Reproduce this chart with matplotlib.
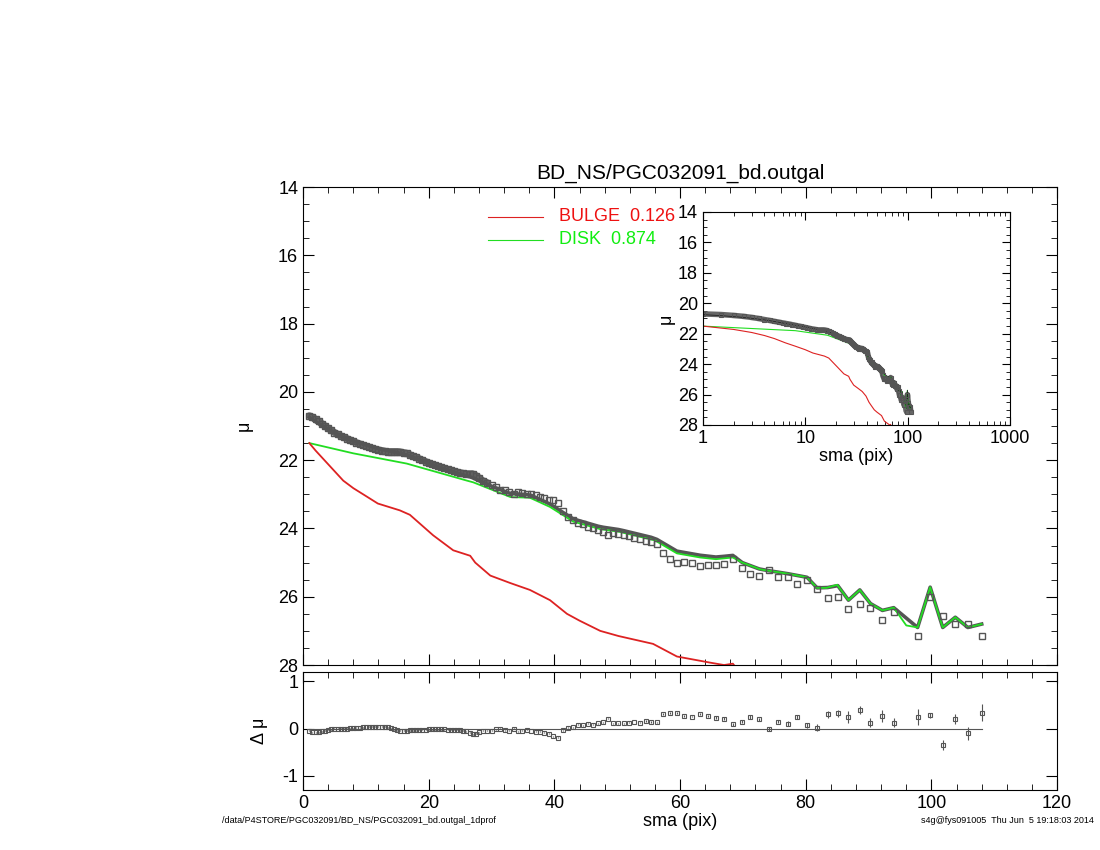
import numpy as np
import matplotlib
matplotlib.use("Agg")
import matplotlib.pyplot as plt
from matplotlib.ticker import MultipleLocator

plt.rcParams['font.family'] = ['Liberation Sans', 'DejaVu Sans']

# observed profile
sma = [1.0, 1.5, 2.0, 2.5, 3.0, 3.5, 4.0, 4.5, 5.0, 5.5, 6.0, 6.5, 7.0, 7.5, 8.0, 8.5, 9.0, 9.5,
       10.0, 10.5, 11.0, 11.5, 12.0, 12.5, 13.0, 13.5, 14.0, 14.5, 15.0, 15.5, 16.0, 16.5, 17.0,
       17.5, 18.0, 18.5, 19.0, 19.5, 20.0, 20.5, 21.0, 21.5, 22.0, 22.5, 23.0, 23.5, 24.0, 24.5,
       25.0, 25.5, 26.0, 26.5, 27.0, 27.5, 28.0, 28.6, 29.3, 30.0, 30.7, 31.4, 32.1, 32.8, 33.5,
       34.2, 34.9, 35.6, 36.3, 37.0, 37.7, 38.4, 39.1, 39.8, 40.6, 41.4, 42.2, 43.0, 43.8, 44.6,
       45.4, 46.2, 47.0, 47.8, 48.6, 49.4, 50.2, 51.0, 51.8, 52.7, 53.6, 54.5, 55.4, 56.3,
       57.3, 58.4, 59.5, 60.7, 61.9, 63.2, 64.4, 65.7, 67.0, 68.4, 69.9, 71.2, 72.6, 74.1, 75.6,
       77.1, 78.6, 80.2, 81.8, 83.5, 85.1, 86.8, 88.6, 90.3, 92.2, 94.0, 97.8, 99.8, 101.8,
       103.8, 105.8, 108.0]
mu = [20.70, 20.74, 20.80, 20.86, 20.93, 21.00, 21.07, 21.13, 21.19, 21.24, 21.29, 21.33, 21.37,
      21.41, 21.45, 21.49, 21.52, 21.56, 21.59, 21.62, 21.65, 21.68, 21.70, 21.72, 21.74, 21.75,
      21.75, 21.75, 21.75, 21.76, 21.78, 21.80, 21.84, 21.88, 21.92, 21.96, 22.00, 22.04, 22.08,
      22.12, 22.15, 22.18, 22.21, 22.24, 22.27, 22.30, 22.33, 22.35, 22.37, 22.39, 22.40, 22.40,
      22.40, 22.45, 22.52, 22.60, 22.66, 22.72, 22.80, 22.86, 22.88, 22.92, 22.98, 22.94, 22.96,
      22.98, 22.98, 23.02, 23.08, 23.12, 23.16, 23.18, 23.25, 23.50, 23.65, 23.75, 23.85, 23.88,
      23.95, 23.98, 24.05, 24.10, 24.20, 24.12, 24.15, 24.18, 24.22, 24.28, 24.30, 24.38, 24.40,
      24.45, 24.73, 24.88, 25.00, 24.98, 25.00, 25.10, 25.07, 25.07, 25.03, 24.88, 25.15, 25.33,
      25.38, 25.23, 25.43, 25.43, 25.62, 25.50, 25.76, 26.03, 26.00, 26.35, 26.20, 26.33, 26.67,
      26.45, 27.14, 26.00, 26.55, 26.80, 26.80, 27.14]
# residual error bars for the outer points (from sma = 57.3 on)
err_outer = [0.02, 0.02, 0.02, 0.02, 0.02, 0.02, 0.02, 0.02, 0.02, 0.02, 0.03, 0.03, 0.03, 0.03,
             0.04, 0.04, 0.04, 0.04, 0.05, 0.05, 0.06, 0.08, 0.07, 0.08, 0.12, 0.08, 0.10, 0.13,
             0.10, 0.17, 0.06, 0.10, 0.10, 0.14, 0.18]

# bulge component
sma_b = [1.0, 2.0, 3.0, 4.0, 5.0, 6.4, 8.0, 10.0, 11.9, 15.4, 17.0, 20.7, 23.9, 26.6, 27.4, 29.8,
         33.0, 36.1, 39.3, 42.0, 44.0, 47.3, 50.2, 55.7, 59.5, 64.8, 67.0, 68.4, 69.0]
mu_b = [21.50, 21.72, 21.92, 22.12, 22.32, 22.60, 22.82, 23.05, 23.27, 23.47, 23.60, 24.20, 24.64,
        24.80, 25.00, 25.38, 25.60, 25.80, 26.10, 26.50, 26.70, 27.00, 27.15, 27.38, 27.75, 27.93,
        28.00, 27.96, 28.10]

# disk component
sma_d = [1.0, 8.0, 16.5, 26.1, 27.1, 33.0, 36.1, 39.3, 43.0, 47.3, 50.4, 56.0, 59.5, 63.2, 65.7,
         68.4, 69.9, 72.8, 77.0, 80.2, 81.8, 83.3, 85.0, 86.8, 88.6, 90.3, 92.2, 94.0, 96.0,
         97.8, 99.8, 101.8, 103.8, 105.8, 108.0]
mu_d = [21.50, 21.80, 22.10, 22.60, 22.65, 23.08, 23.10, 23.37, 23.80, 24.02, 24.10, 24.35, 24.73,
        24.85, 24.90, 24.85, 25.00, 25.20, 25.32, 25.43, 25.74, 25.74, 25.65, 26.10, 25.80, 26.20,
        26.40, 26.32, 26.84, 26.90, 25.72, 26.90, 26.60, 26.90, 26.80]

sma = np.array(sma)
mu = np.array(mu)
fb = 10 ** (-0.4 * np.interp(sma, sma_b, mu_b, right=40))
fd = 10 ** (-0.4 * np.interp(sma, sma_d, mu_d))
mu_tot = -2.5 * np.log10(fb + fd)
resid = mu - mu_tot
err = np.concatenate([np.full(len(sma) - len(err_outer), 0.01), err_outer])
inner = sma < 30

fig = plt.figure(figsize=(11, 8.5), dpi=100)


def style(ax):
    ax.tick_params(which='both', direction='in', top=True, right=True, labelsize=13)
    ax.tick_params(which='major', length=8)
    ax.tick_params(which='minor', length=4)
    for s in ax.spines.values():
        s.set_linewidth(0.8)


ax = fig.add_axes([0.2755, 0.2176, 0.6855, 0.5624])
ax.plot(sma[inner], mu[inner], color='#666666', lw=5, solid_capstyle='round')
ax.plot(sma, mu_tot, color='#555555', lw=2.6)
ax.plot(sma_d, mu_d, color='#22dd22', lw=1.3)
ax.plot(sma_b, mu_b, color='#dd2222', lw=1.3)
ax.plot(sma, mu, 's', ms=4, mfc='none', mec='#555555', mew=1)
ax.set_xlim(0, 120)
ax.set_ylim(28, 14)
ax.xaxis.set_major_locator(MultipleLocator(20))
ax.xaxis.set_minor_locator(MultipleLocator(4))
ax.yaxis.set_major_locator(MultipleLocator(2))
ax.yaxis.set_minor_locator(MultipleLocator(0.5))
ax.set_xticklabels([])
ax.set_ylabel('μ', fontsize=13, labelpad=18)
ax.set_title('BD_NS/PGC032091_bd.outgal', fontsize=15, pad=6)
style(ax)
ax.plot([0.245, 0.318], [0.938, 0.938], transform=ax.transAxes, color='#dd2222', lw=0.8)
ax.plot([0.245, 0.318], [0.89, 0.89], transform=ax.transAxes, color='#22dd22', lw=0.8)
ax.text(0.34, 0.938, 'BULGE  0.126', transform=ax.transAxes, color='#ee1111', fontsize=13, va='center')
ax.text(0.34, 0.89, 'DISK  0.874', transform=ax.transAxes, color='#11ee11', fontsize=13, va='center')

# residuals
ar = fig.add_axes([0.2755, 0.0706, 0.6855, 0.1388])
ar.plot([1, 108], [0, 0], color='#555555', lw=0.8)
ar.errorbar(sma, resid, yerr=err, fmt='s', ms=3, mfc='none', mec='#555555', ecolor='#555555',
            elinewidth=0.8, mew=0.8)
ar.set_xlim(0, 120)
ar.set_ylim(-1.3, 1.2)
ar.xaxis.set_major_locator(MultipleLocator(20))
ar.xaxis.set_minor_locator(MultipleLocator(4))
ar.set_yticks([-1, 0, 1])
ar.set_yticklabels(['-1', '0', '1'])
ar.set_xlabel('sma (pix)', fontsize=13, labelpad=1)
ar.set_ylabel('Δ μ', fontsize=13, labelpad=10)
style(ar)

# inset with log axis
ai = fig.add_axes([0.639, 0.5, 0.279, 0.2506])
ai.plot(sma, mu, color='#666666', lw=4, solid_capstyle='round')
ai.plot(sma_d, mu_d, color='#22dd22', lw=0.8)
ai.plot(sma_b, mu_b, color='#dd2222', lw=0.8)
ai.plot(sma, mu_tot, color='#222222', lw=0.6)
ai.plot(sma, mu, 's', ms=3, mfc='none', mec='#555555', mew=0.8)
ai.set_xscale('log')
ai.set_xlim(1, 1000)
ai.set_ylim(28, 14)
ai.yaxis.set_major_locator(MultipleLocator(2))
ai.yaxis.set_minor_locator(MultipleLocator(0.5))
ai.set_xticks([1, 10, 100, 1000])
ai.set_xticklabels(['1', '10', '100', '1000'])
ai.set_xlabel('sma (pix)', fontsize=13, labelpad=1)
ai.set_ylabel('μ', fontsize=13, labelpad=2)
style(ai)
ai.tick_params(which='major', length=6)
ai.tick_params(which='minor', length=3)

fig.text(0.202, 0.032, '/data/P4STORE/PGC032091/BD_NS/PGC032091_bd.outgal_1dprof', fontsize=6.5)
fig.text(0.994, 0.032, 's4g@fys091005  Thu Jun  5 19:18:03 2014', fontsize=6.5, ha='right')

fig.savefig('out.png', dpi=100)
